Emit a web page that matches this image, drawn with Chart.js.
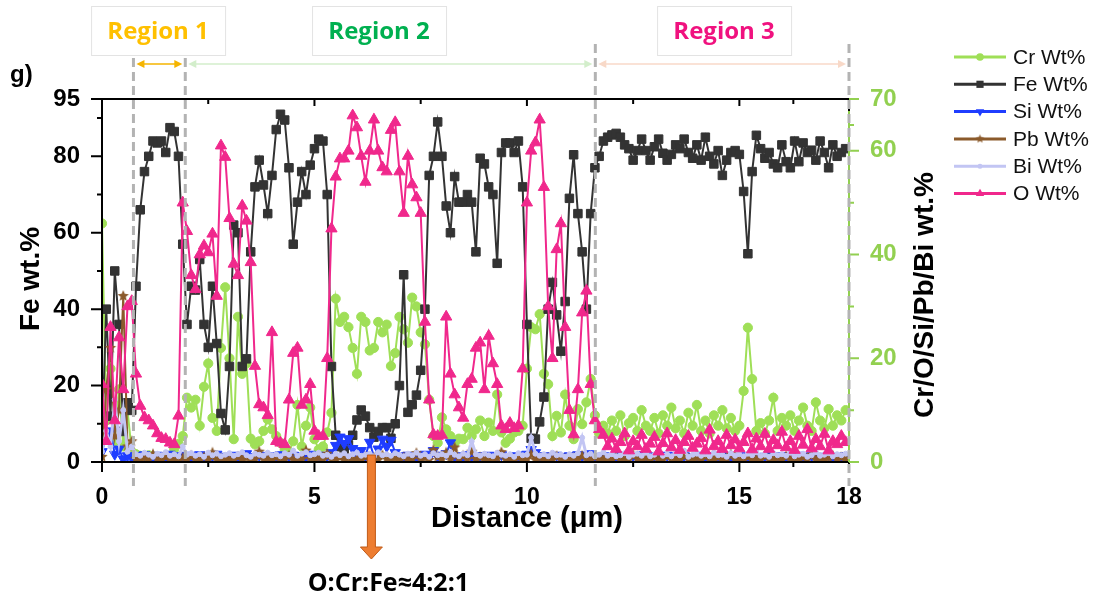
<!DOCTYPE html>
<html><head><meta charset="utf-8">
<script src="https://cdn.jsdelivr.net/npm/chart.js@4.4.1/dist/chart.umd.min.js"></script>
<style>html,body{margin:0;padding:0;background:#fff;}canvas{display:block;}</style>
</head><body>
<canvas id="c" width="1097" height="599"></canvas>
<script>
// ---------------- DATA ----------------
const distance = [0,0.1,0.2,0.3,0.4,0.5,0.6,0.7,0.8,0.9,1,1.1,1.2,1.3,1.4,1.5,1.6,1.7,1.8,1.9,2,2.1,2.2,2.3,2.4,2.5,2.6,2.7,2.8,2.9,3,3.1,3.2,3.3,3.4,3.5,3.6,3.7,3.8,3.9,4,4.1,4.2,4.3,4.4,4.5,4.6,4.7,4.8,4.9,5,5.1,5.2,5.3,5.4,5.5,5.6,5.7,5.8,5.9,6,6.1,6.2,6.3,6.4,6.5,6.6,6.7,6.8,6.9,7,7.1,7.2,7.3,7.4,7.5,7.6,7.7,7.8,7.9,8,8.1,8.2,8.3,8.4,8.5,8.6,8.7,8.8,8.9,9,9.1,9.2,9.3,9.4,9.5,9.6,9.7,9.8,9.9,10,10.1,10.2,10.3,10.4,10.5,10.6,10.7,10.8,10.9,11,11.1,11.2,11.3,11.4,11.5,11.6,11.7,11.8,11.9,12,12.1,12.2,12.3,12.4,12.5,12.6,12.7,12.8,12.9,13,13.1,13.2,13.3,13.4,13.5,13.6,13.7,13.8,13.9,14,14.1,14.2,14.3,14.4,14.5,14.6,14.7,14.8,14.9,15,15.1,15.2,15.3,15.4,15.5,15.6,15.7,15.8,15.9,16,16.1,16.2,16.3,16.4,16.5,16.6,16.7,16.8,16.9,17,17.1,17.2,17.3,17.4,17.5];

const crWt = [46,8,18,4,14,3,10,2,1.5,1.2, 1,1.3,0.8,1,0.9,1.2,1,2.5,3.5,5, 12.4,10.5,12,7,14.5,19,8.5,6,22,33.7, 20,4.4,28,17,19,4.5,3.4,4,6,8.2, 6.3,5,3.7,2.4,2,4,11,3,7,10.5, 4.4,2.4,3,5.7,9.5,31.5,27,28,26,22, 17,28,27,21.5,22,27,25,26.5,18.5,21, 28,25.6,23,31.7,30,25,22.7,12,5,3.7, 8.6,6.3,5,3.7,4.5,4.4,6.6,5,6.3,8, 5,7.6,6,13,5.7,3.7,4.5,5.7,6,7, 18,26,25.6,28.5,17,15,5,8.9,5.7,13, 7,4.4,10.2,7.3,11.5,16,9,5.5,7,5.5, 8,6,9,5,7.5,8.5,6,10,7,6, 8.5,5.5,9,7,10.5,6.5,8,5.5,9.5,7, 11,6,8,5.5,9,7,10,6.5,8.5,6, 7,13.7,25.9,16,6,7.5,5.5,8,12.4,6, 8.5,7,9,6,8,10.5,7,6,11.5,8, 6.5,10.2,7,9,8,10];

const feWt = [6,40,12,50,36,8,15.5,13.5,46,66, 76,80,84,83.5,84,81,87.5,86.5,80,57, 36,46,45,53,36,30,46,31,12.7,8.4, 25,62,60,25,27,55,72,79,72.5,65, 75,87,91,89.5,77,57,68,76,70,77.7, 82,84.5,84,70,25,7,4,2.5,4.5,7, 11,13.6,12,9,6.5,8,9,9,6.2,10, 20,49,13,15,17.5,24,40,75,80,89, 80,67,60,74.7,68,68,70,68,55,79.5, 78,72,70,52,81,83.5,83.5,81,84,72, 36,6.2,6,10.5,17,40,47,38.5,29,42, 69,80.4,65,55,40,65,77,80,84,85, 85.6,86,85,83,82,79,81.5,84.5,81.5,79, 82.5,84.5,80.8,79,80.5,83,82,84.5,81,79.5, 83,79,85,80,78,81.5,75,79,81,81.5, 80.5,70.8,54.5,76,85.5,82,79.5,81,78,77, 83,78.6,77,84,78.6,83.5,81,81.6,79,84, 81,77,83,80,81,82];

const siWt = [2,5,6,1.5,2.5,0.6,1.2,0.8, 1.2,0.9,1.4,1,0.8,1.3,1.1,0.9,1.5,1.2,0.8,1, 1.3,0.9,1.1,1.4,1,0.8,1.2,1.5,0.9,1.1, 1,1.3,0.8,1.2,1.6,1,0.9,1.3,1.1,0.8, 1.2,1,1.4,0.9,1.1,1.3,0.8,1.2,1,1.5, 1.1,0.9,1.3,1.2,1.8,3.2,4.8,3.6,4.5,2.6, 1.5,2.2,1.2,3.8,1,2.5,4.4,3,4.2,1.8, 1.2,0.9,1.3,1,0.8,1.2,1.5,1,2.2,1.1, 1.3,1.6,3.7,1,1.2,0.9,1.4,1.1,0.8,1.2, 1,1.3,0.9,1.1,1.4,1,0.8,1.2,1,1.3, 1.5,2.4,1.8,1,1.2,0.9,1.1,1.3,0.8,1, 1.2,0.9,1.4,1.1,1.3,1.6,1,0.8,1.2,0.9, 1.1,0.7,1.3,0.9,1,1.2,0.8,1.4,1,0.9, 1.2,0.8,1,1.3,0.9,1.1,0.7,1.2,1,0.8, 1.1,1.3,0.9,1,1.2,0.8,1.4,1,0.9,1.1, 1,1.2,0.8,1.3,1,0.9,1.1,1.4,0.8,1, 1.2,0.9,1.1,1,1.3,0.8,1,1.2,0.9,1.1, 1,1.3,0.8,1.1,1,1.2];

const pbWt = [1,14,22,5,10,32,3,4, 0.6,0.4,0.8,0.5,1.5,0.6,0.4,1,0.5,0.7,0.4,0.8, 0.5,1.2,0.4,0.6,0.9,0.5,1.8,0.4,0.7,0.5, 0.6,0.4,1,0.5,0.8,0.4,0.6,2,0.5,0.7, 0.4,0.9,0.5,0.6,1.2,0.4,0.7,0.5,2.2,0.6, 0.5,0.8,0.4,1.6,0.6,0.5,0.9,0.4,0.7,0.5, 0.6,0.4,1,0.5,0.8,0.4,1.3,0.6,0.5,0.7, 0.4,0.9,0.5,0.6,1.7,0.5,0.8,0.4,2.3,1, 0.6,1.8,0.5,2.8,0.7,1.2,0.5,2,0.6,0.9, 0.5,0.7,0.4,0.8,1.9,0.5,0.6,0.4,0.9,0.5, 0.6,1.5,0.4,0.8,0.5,0.7,0.4,1.1,0.5,0.6, 0.4,0.8,0.5,1.2,0.6,0.4,0.9,0.5,0.7,0.4, 0.6,1,0.4,0.7,0.5,1.4,0.6,0.4,0.8,0.5, 0.9,0.4,0.6,1.1,0.5,0.7,0.4,1.3,0.6,0.5, 0.8,0.4,1.2,0.5,0.6,0.9,0.4,0.7,1.5,0.5, 0.6,0.4,1,0.5,0.7,0.4,1.2,0.6,0.5,0.8, 0.4,1.1,0.5,0.7,0.4,0.9,0.6,1.4,0.5,0.7, 0.4,0.8,1.2,0.5,0.9,0.6];

const biWt = [2,6,3,12,4,10,2,3, 1.5,1.2,1.8,1.4,1,1.6,1.3,1.9,1.2,1.5,1.1,3, 1.4,1.7,1.2,1.5,1,1.8,1.3,1.6,1.1,1.4, 1.7,1.2,1.5,1.9,1.3,1,1.6,1.4,1.2,1.8, 1.3,1.5,1.1,1.7,1.4,2.2,1.2,1.6,1.9,1.3, 1.5,1.8,1.2,1.4,1,1.6,1.3,1.7,1.1,1.5, 1.8,1.2,1.4,1.6,1.1,1.9,1.3,1.5,1.2,1.7, 1.4,1.1,1.6,1.3,1.8,1.2,1.5,1,1.7,1.3, 1.5,1.2,1.9,1.4,1.1,1.6,1.3,4,1.5,1.2, 1.6,1.3,1.1,1.8,1.4,1.2,1.5,1,1.7,1.3, 1.4,4.7,1.6,1.2,1.5,1.1,1.8,1.3,1.4,1, 1.5,1.2,1.7,4.7,1.3,1.6,1.1,1.4,1.9,1.2, 1.5,1.1,1.3,1.7,1,1.4,1.6,1.2,1.8,1.1, 1.4,1.9,1.2,1.5,1.1,1.7,1.3,2.2,1,1.4, 1.6,1.2,1.5,1.1,1.8,1.3,1.4,1,1.7,1.2, 1.5,1.1,1.6,1.3,1.9,1.2,1.4,1,1.7,1.3, 1.5,1.2,1.8,1.1,1.4,1.6,1,1.3,1.9,1.2, 1.4,1.7,1.1,1.5,1.3,1.6];

const oWt = [15,4,26,8,24,14,30,31,17,10.8, 8.6,8,7,5.5,4.6,4.4,3.7,3.4,8.9,50, 44.5,36,33.3,40,41.7,40.4,44,32,61,58.8, 47,38.2,36,49.4,46.5,38.5,18.5,11.1,10.5,9, 25,4,3.7,3.4,12,21,22,11,12,15, 6,5,5,20,45,55,58.5,58.5,60,66.8, 64.5,59,54,60,66,60,56.8,56,64,65.5, 56,48,59,53.5,51,48,27,12,5.3,5, 5.2,28,17,13,10.5,8.5,15,16,22,23, 14,24.3,19,15,7,6.3,7.5,6.5,7,18, 50,60,61.6,66,53,30,20,41,46,26, 10,5.3,14,28.8,33,15,8,6.3,5.2,3, 4.5,2.5,3.8,5.5,2.2,4,3,5.2,2.5,3.5, 4.8,2,3.6,5.5,2.8,4.2,2.3,3.8,5,2.7, 3.5,4.6,2.2,6.2,3,4,2.5,5.2,3.2,4.3, 2.6,3.8,5.5,2.4,4.5,3,5.4,2.5,4.2,3.2, 5.8,2.8,4,2.3,5,3.3,6.3,2.6,4.4,3, 5.4,2.2,4,3.4,5,3.8];

// axes / ticks / annotations
const xMin = 0, xMax = 17.58;
const xTickValues = [0, 5, 10, 15, 17.58];
const xTickLabels = ['0', '5', '10', '15', '18'];
const xMinorTicks = [2.5, 7.5, 12.5, 16.27];
const feMin = 0, feMax = 95;
const feTicks = [0, 20, 40, 60, 80, 95];
const feMinorTicks = [10, 30, 50, 70, 90];
const rightMin = 0, rightMax = 70;
const rightTicks = [0, 20, 40, 60, 70];
const rightMinorTicks = [10, 30, 50, 65];
const regionBounds = [0.74, 1.96, 11.61, 17.58];
const regionNames = ['Region 1', 'Region 2', 'Region 3'];
const regionCenters = [1.32, 6.52, 14.64];
const annotationX = 6.34;
const annotationText = 'O:Cr:Fe\u22484:2:1';
const seriesLabels = ['Cr Wt%', 'Fe Wt%', 'Si Wt%', 'Pb Wt%', 'Bi Wt%', 'O Wt%'];

// ---------------- STYLE ----------------
function makeStar(color, r) {
  const s = Math.ceil(r * 2 + 2);
  const c = document.createElement('canvas'); c.width = s; c.height = s;
  const g = c.getContext('2d'); g.fillStyle = color; g.beginPath();
  for (let k = 0; k < 10; k++) {
    const rr = k % 2 ? r * 0.45 : r;
    const a = -Math.PI / 2 + k * Math.PI / 5;
    g.lineTo(s / 2 + rr * Math.cos(a), s / 2 + rr * Math.sin(a));
  }
  g.closePath(); g.fill();
  return c;
}
const GREEN_AXIS = '#92d050';
const starPb = makeStar('#8b5a2b', 6);
const starPbLegend = makeStar('#8b5a2b', 4.5);

const seriesStyle = [
  { data: crWt, color: '#9fdf57', point: 'circle', r: 4.6, rot: 0, axis: 'y1', order: 6, lw: 2 },
  { data: feWt, color: '#333333', point: 'rect', r: 6, rot: 0, axis: 'y', order: 5, lw: 2 },
  { data: siWt, color: '#1f3dff', point: 'triangle', r: 6, rot: 180, axis: 'y1', order: 4, lw: 2 },
  { data: pbWt, color: '#8b5a2b', point: starPb, r: 6, rot: 0, axis: 'y1', order: 3, lw: 2 },
  { data: biWt, color: '#c2c5f3', point: 'circle', r: 2.5, rot: 0, axis: 'y1', order: 2, lw: 3 },
  { data: oWt, color: '#f0288c', point: 'triangle', r: 6.5, rot: 0, axis: 'y1', order: 1, lw: 2 }
];

const datasets = seriesStyle.map((s, k) => ({
  label: seriesLabels[k],
  data: distance.map((d, i) => ({ x: d, y: s.data[i] })),
  yAxisID: s.axis,
  order: s.order,
  borderColor: s.color,
  backgroundColor: s.color,
  borderWidth: s.lw,
  pointStyle: s.point,
  pointRadius: s.r,
  pointRotation: s.rot,
  pointBackgroundColor: s.color,
  pointBorderColor: s.color,
  pointBorderWidth: 1,
  tension: 0,
  fill: false
}));

const FONT = 'Arial, "Liberation Sans", sans-serif';
const CAL = '"Open Sans", Lato, sans-serif';

function legendMarker(ctx, s, x, y) {
  ctx.fillStyle = s.color; ctx.strokeStyle = s.color;
  if (typeof s.point !== 'string') {
    ctx.drawImage(starPbLegend, x - starPbLegend.width / 2, y - starPbLegend.height / 2);
    return;
  }
  ctx.beginPath();
  if (s.point === 'circle') {
    ctx.arc(x, y, Math.min(s.r, 3.8), 0, Math.PI * 2);
  } else if (s.point === 'rect') {
    ctx.rect(x - 3.6, y - 3.6, 7.2, 7.2);
  } else if (s.point === 'triangle') {
    const r = 4.8, dir = s.rot === 180 ? -1 : 1;
    ctx.moveTo(x, y - dir * r);
    ctx.lineTo(x + r * 0.87, y + dir * r * 0.5);
    ctx.lineTo(x - r * 0.87, y + dir * r * 0.5);
    ctx.closePath();
  }
  ctx.fill();
}

const decor = {
  id: 'decor',
  afterDraw(chart) {
    const { ctx, chartArea: a } = chart;
    const X = chart.scales.x, Y = chart.scales.y, Y1 = chart.scales.y1;
    ctx.save();
    // frame
    ctx.strokeStyle = '#000'; ctx.lineWidth = 2; ctx.setLineDash([]);
    ctx.beginPath();
    ctx.moveTo(a.left, a.bottom); ctx.lineTo(a.left, a.top); ctx.lineTo(a.right, a.top);
    ctx.moveTo(a.left - 1, a.bottom); ctx.lineTo(a.right + 1, a.bottom);
    ctx.moveTo(a.right, a.top); ctx.lineTo(a.right, a.top + 12);
    ctx.stroke();
    // bottom ticks (outward) & top ticks (inward), left ticks
    ctx.beginPath();
    xTickValues.forEach(v => { const p = X.getPixelForValue(v); ctx.moveTo(p, a.bottom); ctx.lineTo(p, a.bottom + 10); ctx.moveTo(p, a.top); ctx.lineTo(p, a.top + 7); });
    xMinorTicks.forEach(v => { const p = X.getPixelForValue(v); ctx.moveTo(p, a.bottom); ctx.lineTo(p, a.bottom + 5); ctx.moveTo(p, a.top); ctx.lineTo(p, a.top + 5); });
    feTicks.forEach(v => { const p = Y.getPixelForValue(v); ctx.moveTo(a.left - 11, p); ctx.lineTo(a.left, p); });
    feMinorTicks.forEach(v => { const p = Y.getPixelForValue(v); ctx.moveTo(a.left - 5, p); ctx.lineTo(a.left, p); });
    ctx.stroke();
    // right green axis
    ctx.strokeStyle = GREEN_AXIS; ctx.lineWidth = 2;
    ctx.beginPath();
    ctx.moveTo(a.right, a.top + 12); ctx.lineTo(a.right, a.bottom);
    rightTicks.forEach(v => { const p = Y1.getPixelForValue(v); ctx.moveTo(a.right, p); ctx.lineTo(a.right + 10, p); });
    rightMinorTicks.forEach(v => { const p = Y1.getPixelForValue(v); ctx.moveTo(a.right, p); ctx.lineTo(a.right + 5, p); });
    ctx.stroke();

    // dashed region lines
    ctx.strokeStyle = '#b3b3b3'; ctx.lineWidth = 3; ctx.setLineDash([9, 5]);
    regionBounds.forEach((v, i) => {
      const p = X.getPixelForValue(v);
      ctx.beginPath(); ctx.moveTo(p, i < 2 ? 58 : 44); ctx.lineTo(p, 486); ctx.stroke();
    });
    ctx.setLineDash([]);

    // region arrows
    const arrowY = 64;
    const arrowCols = ['#f5b400', '#d3eecb', '#f8d9c8'];
    function dblArrow(x1, x2, col) {
      ctx.strokeStyle = col; ctx.fillStyle = col; ctx.lineWidth = 1.6;
      ctx.beginPath(); ctx.moveTo(x1 + 4, arrowY); ctx.lineTo(x2 - 4, arrowY); ctx.stroke();
      ctx.beginPath(); ctx.moveTo(x1, arrowY); ctx.lineTo(x1 + 8, arrowY - 4); ctx.lineTo(x1 + 8, arrowY + 4); ctx.closePath(); ctx.fill();
      ctx.beginPath(); ctx.moveTo(x2, arrowY); ctx.lineTo(x2 - 8, arrowY - 4); ctx.lineTo(x2 - 8, arrowY + 4); ctx.closePath(); ctx.fill();
    }
    for (let i = 0; i < 3; i++) {
      dblArrow(X.getPixelForValue(regionBounds[i]) + 3, X.getPixelForValue(regionBounds[i + 1]) - 3, arrowCols[i]);
    }

    // region boxes
    const regionCols = ['#ffc000', '#00b050', '#f0127f'];
    ctx.font = 'bold 24px ' + CAL; ctx.textAlign = 'center'; ctx.textBaseline = 'alphabetic';
    regionNames.forEach((t, i) => {
      const cx = X.getPixelForValue(regionCenters[i]);
      ctx.fillStyle = '#fff'; ctx.strokeStyle = '#e3e3e3'; ctx.lineWidth = 1;
      ctx.fillRect(cx - 67, 6, 134, 49); ctx.strokeRect(cx - 67 + 0.5, 6.5, 134, 49);
      ctx.fillStyle = regionCols[i];
      ctx.fillText(t, cx, 39);
    });

    // panel letter
    ctx.fillStyle = '#000'; ctx.textAlign = 'left';
    ctx.font = 'bold 24px ' + FONT;
    ctx.fillText('g)', 10, 82);

    // axis titles
    ctx.textAlign = 'center'; ctx.textBaseline = 'middle';
    ctx.font = 'bold 28px ' + FONT;
    ctx.save(); ctx.translate(31, 279); ctx.rotate(-Math.PI / 2); ctx.fillText('Fe wt.%', 0, 0); ctx.restore();
    ctx.save(); ctx.translate(925, 295); ctx.rotate(-Math.PI / 2); ctx.fillText('Cr/O/Si/Pb/Bi wt.%', 0, 0); ctx.restore();
    ctx.font = 'bold 29px ' + FONT; ctx.textBaseline = 'alphabetic';
    ctx.fillText('Distance (\u03bcm)', 527, 527);

    // orange annotation arrow
    const ax = X.getPixelForValue(annotationX);
    ctx.fillStyle = '#ed7d31'; ctx.strokeStyle = '#c05a17'; ctx.lineWidth = 1;
    ctx.beginPath();
    ctx.moveTo(ax - 4, 455); ctx.lineTo(ax + 4, 455); ctx.lineTo(ax + 4, 547); ctx.lineTo(ax + 11, 547);
    ctx.lineTo(ax, 559); ctx.lineTo(ax - 11, 547); ctx.lineTo(ax - 4, 547); ctx.closePath();
    ctx.fill(); ctx.stroke();
    ctx.fillStyle = '#000'; ctx.font = 'bold 25px ' + CAL; ctx.textAlign = 'center';
    ctx.fillText(annotationText, ax + 17, 591);

    // legend
    ctx.textAlign = 'left'; ctx.textBaseline = 'middle';
    ctx.font = '21px ' + FONT;
    seriesStyle.forEach((s, k) => {
      const y = 57 + k * 27.3;
      ctx.strokeStyle = s.color; ctx.lineWidth = 3;
      ctx.beginPath(); ctx.moveTo(954, y); ctx.lineTo(1006, y); ctx.stroke();
      legendMarker(ctx, s, 980, y);
      ctx.fillStyle = '#111';
      ctx.fillText(seriesLabels[k], 1013, y + 1);
    });
    ctx.restore();
  }
};

new Chart(document.getElementById('c'), {
  type: 'line',
  data: { datasets },
  options: {
    responsive: false,
    animation: false,
    devicePixelRatio: 1,
    layout: { padding: { top: 99, left: 0, right: 0, bottom: 0 } },
    plugins: { legend: { display: false }, tooltip: { enabled: false } },
    scales: {
      x: {
        type: 'linear', position: 'bottom', min: xMin, max: xMax,
        grid: { display: false, drawTicks: false }, border: { display: false },
        afterBuildTicks: s => { s.ticks = xTickValues.map(v => ({ value: v })); },
        afterFit: s => { s.height = 137; },
        ticks: {
          autoSkip: false, maxRotation: 0, padding: 22, color: '#000',
          font: { family: FONT, size: 23, weight: 'bold' },
          callback: v => { const i = xTickValues.indexOf(v); return i >= 0 ? xTickLabels[i] : ''; }
        }
      },
      y: {
        type: 'linear', position: 'left', min: feMin, max: feMax,
        grid: { display: false, drawTicks: false }, border: { display: false },
        afterBuildTicks: s => { s.ticks = feTicks.map(v => ({ value: v })); },
        afterFit: s => { s.width = 102; },
        ticks: { autoSkip: false, padding: 22, color: '#000', font: { family: FONT, size: 24, weight: 'bold' } }
      },
      y1: {
        type: 'linear', position: 'right', min: rightMin, max: rightMax,
        grid: { display: false, drawTicks: false }, border: { display: false },
        afterBuildTicks: s => { s.ticks = rightTicks.map(v => ({ value: v })); },
        afterFit: s => { s.width = 248; },
        ticks: { autoSkip: false, padding: 21, color: GREEN_AXIS, font: { family: FONT, size: 24, weight: 'bold' } }
      }
    }
  },
  plugins: [decor]
});
</script>
</body></html>
